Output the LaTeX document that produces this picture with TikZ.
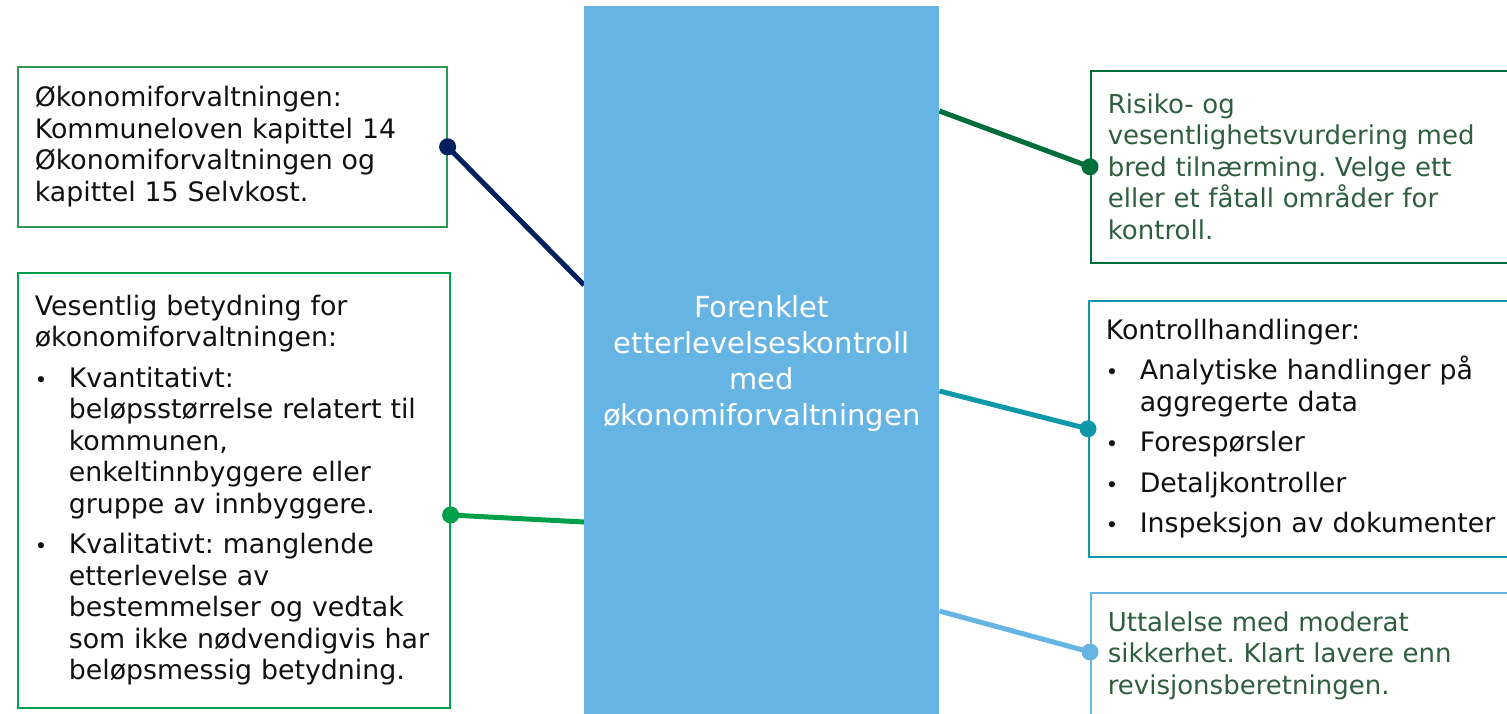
\documentclass[tikz,border=0pt]{standalone}
\usepackage{fontspec}
\setmainfont{DejaVu Sans}
\usetikzlibrary{calc,backgrounds}
\definecolor{centerblue}{HTML}{65B4E4}
\definecolor{navy}{HTML}{002060}
\definecolor{boxgreen}{HTML}{2E9A58}
\definecolor{brightgreen}{HTML}{00A04A}
\definecolor{darkgreen}{HTML}{006E3A}
\definecolor{teal}{HTML}{0E99A8}
\definecolor{txtgreen}{HTML}{2F5E3F}
\definecolor{txtblack}{HTML}{111111}
\newcommand\bul{\makebox[34pt][l]{\fontsize{21}{21}\selectfont •}}
\newcommand\ind{\hspace*{34pt}}
\tikzset{
  infobox/.style={draw=#1, line width=1.6pt, rectangle, anchor=north west, align=left,
    inner xsep=17pt, inner ysep=0pt, font=\frenchspacing\fontsize{26.8}{31.5}\selectfont, text=txtblack},
  greentext/.style={text=txtgreen, font=\frenchspacing\fontsize{26}{31.5}\selectfont},
  conn/.style={draw=#1, line width=5pt},
  dot/.style={fill=#1, circle, inner sep=0pt, minimum size=17pt}
}
\begin{document}
\begin{tikzpicture}[x=1pt,y=-1pt]
\useasboundingbox (0,0) rectangle (1507,714);
\begin{scope}
\clip (0,0) rectangle (1507,714);
% central block
\node[fill=centerblue, draw=none, anchor=north west, minimum width=355pt, minimum height=714pt,
  inner sep=0pt, align=center, text=white, font=\fontsize{29}{36}\selectfont] (c) at (584,6)
  {Forenklet\\etterlevelseskontroll\\med\\økonomiforvaltningen};
% left boxes
\node[infobox=boxgreen, minimum width=429pt, minimum height=160pt, text width=395pt] (b1) at (17,66)
  {Økonomiforvaltningen:\\Kommuneloven kapittel 14\\Økonomiforvaltningen og\\kapittel 15 Selvkost.};
\node[infobox=brightgreen, minimum width=432pt, minimum height=435pt, text width=398pt] (b2) at (17,272)
  {Vesentlig betydning for\\
   økonomiforvaltningen:\\[9pt]
   \bul Kvantitativt:\\
   \ind beløpsstørrelse relatert til\\
   \ind kommunen,\\
   \ind enkeltinnbyggere eller\\
   \ind gruppe av innbyggere.\\[9pt]
   \bul Kvalitativt: manglende\\
   \ind etterlevelse av\\
   \ind bestemmelser og vedtak\\
   \ind som ikke nødvendigvis har\\
   \ind beløpsmessig betydning.};
% right boxes
\node[infobox=darkgreen, greentext, minimum width=440pt, minimum height=192pt, text width=406pt, inner xsep=16pt] (b3) at (1090,70)
  {Risiko- og\\vesentlighetsvurdering med\\bred tilnærming. Velge ett\\eller et fåtall områder for\\kontroll.};
\node[infobox=teal, minimum width=440pt, minimum height=256pt, text width=406pt, inner xsep=16pt] (b4) at (1088,300)
  {Kontrollhandlinger:\\[9pt]
   \bul Analytiske handlinger på\\
   \ind aggregerte data\\[9pt]
   \bul Forespørsler\\[9pt]
   \bul Detaljkontroller\\[9pt]
   \bul Inspeksjon av dokumenter};
\node[infobox=centerblue, greentext, minimum width=440pt, minimum height=126pt, text width=406pt, inner xsep=16pt] (b5) at (1090,592)
  {Uttalelse med moderat\\sikkerhet. Klart lavere enn\\revisjonsberetningen.};
% connectors
\begin{scope}[on background layer]
\draw[conn=navy] ($(b1.east)$) -- ($(c.north west)+(0,279)$);
\draw[conn=brightgreen] ($(b2.north east)+(0,243)$) -- ($(c.north west)+(0,516)$);
\draw[conn=darkgreen] ($(c.north east)+(0,105)$) -- (b3.west);
\draw[conn=teal] ($(c.north east)+(0,385)$) -- (b4.west);
\draw[conn=centerblue] ($(c.north east)+(0,605)$) -- ($(b5.north west)+(0,60)$);
\end{scope}
\node[dot=navy] (p1) at (b1.east) {};
\node[dot=brightgreen] (p2) at ($(b2.north east)+(0,243)$) {};
\node[dot=darkgreen] (p3) at (b3.west) {};
\node[dot=teal] (p4) at (b4.west) {};
\node[dot=centerblue] (p5) at ($(b5.north west)+(0,60)$) {};
\end{scope}
\end{tikzpicture}
\end{document}
